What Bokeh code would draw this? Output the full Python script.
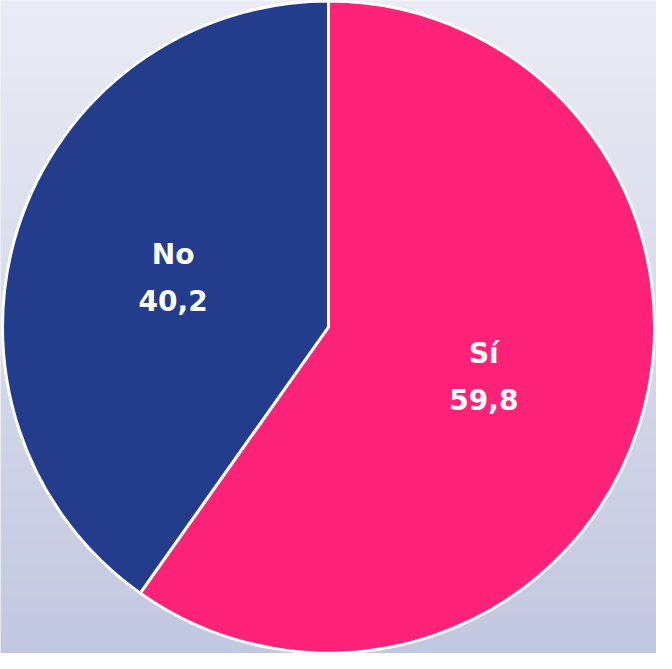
import numpy as np
from bokeh.plotting import figure
from bokeh.models import Range1d, ColumnDataSource
from bokeh.core.properties import value
from bokeh.embed import file_html
from bokeh.resources import INLINE

# Data
categories = ["Sí", "No"]
values = [59.8, 40.2]
value_labels = ["59,8", "40,2"]
colors = ["#ff2279", "#233c8c"]

W, H = 656, 653
R = 326

p = figure(width=W, height=H, output_backend="svg", toolbar_location=None,
           x_range=Range1d(-W / 2, W / 2), y_range=Range1d(-H / 2, H / 2),
           min_border=0, outline_line_color=None)
p.axis.visible = False
p.grid.visible = False
p.background_fill_color = "#e8eaf4"
p.border_fill_color = "#e8eaf4"

# vertical gradient background
n = 200
top = np.array([0xeb, 0xec, 0xf5])
bot = np.array([0xc2, 0xc8, 0xe0])
img = np.zeros((n, 1), dtype=np.uint32)
view = img.view(dtype=np.uint8).reshape((n, 1, 4))
for i in range(n):
    t = i / (n - 1)  # i=0 bottom row
    c = bot * (1 - t) + top * t
    view[i, 0, 0] = int(c[0]); view[i, 0, 1] = int(c[1]); view[i, 0, 2] = int(c[2]); view[i, 0, 3] = 255
p.image_rgba(image=[img], x=-W / 2, y=-H / 2, dw=W, dh=H)

vals = np.array(values)
cum = np.cumsum(vals) / vals.sum()
prev = np.concatenate([[0], cum[:-1]])
start = np.pi / 2 - 2 * np.pi * prev
end = np.pi / 2 - 2 * np.pi * cum
mid = (start + end) / 2

src = ColumnDataSource(dict(start=start, end=end, color=colors,
                            lx=0.5 * R * np.cos(mid), ly=0.5 * R * np.sin(mid),
                            cat=categories, val=value_labels))
p.wedge(x=0, y=0, radius=R, start_angle="start", end_angle="end", direction="clock",
        fill_color="color", line_color="white", line_width=3, source=src)

common = dict(text_color="white", text_font=value("DejaVu Sans"), text_font_style="bold",
              text_font_size="28px", text_align="center", text_baseline="middle", source=src)
p.text(x="lx", y="ly", text="cat", y_offset=-23, **common)
p.text(x="lx", y="ly", text="val", y_offset=23, **common)

open("out.html", "w").write(file_html(p, INLINE))
